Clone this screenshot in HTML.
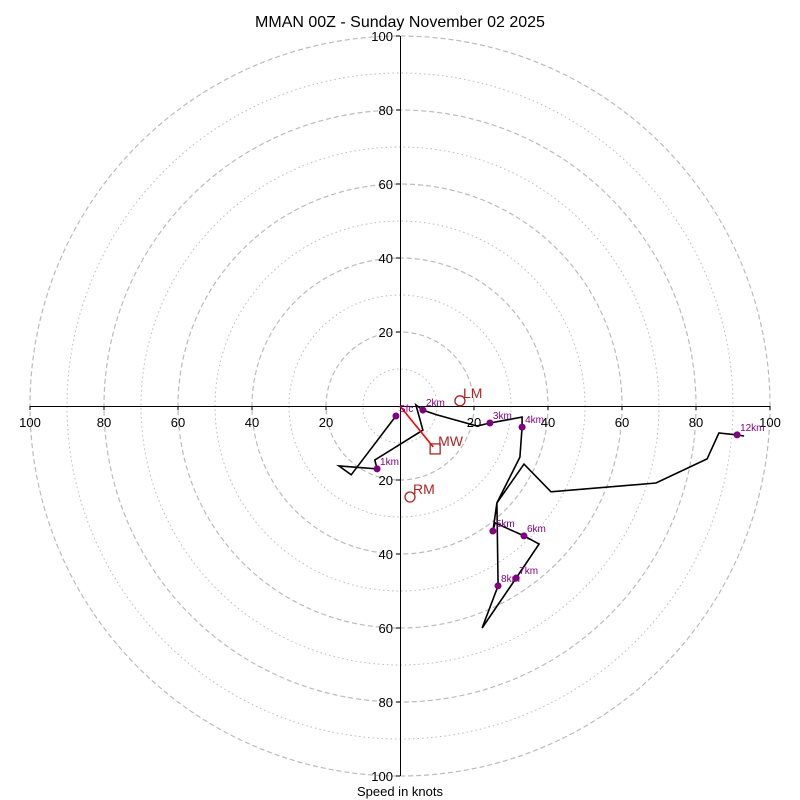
<!DOCTYPE html>
<html><head><meta charset="utf-8"><style>
html,body{margin:0;padding:0;background:#fff;}
svg{display:block;font-family:"Liberation Sans","DejaVu Sans",sans-serif;}
</style></head><body>
<svg id="chart" width="800" height="800" viewBox="0 0 800 800">
<rect width="800" height="800" fill="#fff"/>
<text x="400" y="27" text-anchor="middle" font-size="16" fill="#000">MMAN 00Z - Sunday November 02 2025</text>
<text x="400" y="796" text-anchor="middle" font-size="13" fill="#000">Speed in knots</text>
<g id="rings"></g><g id="axes" shape-rendering="crispEdges"></g><g id="trace"></g><g id="marks"></g>
</svg>
<script>
const ringValues=[10,20,30,40,50,60,70,80,90,100];
const tickValues=[20,40,60,80,100];
const traceU=[-1.1,-13.2,-16.5,-6.2,-6.8,6.2,4.3,6.2,10.0,20.8,24.3,33.0,33.0,32.4,26.2,25.1,25.7,33.5,37.6,31.4,22.2,26.5,26.2,33.5,40.8,69.2,83.0,86.2,91.1,93.0];
const traceV=[-2.7,-18.6,-16.2,-17.0,-14.6,-6.5,0.3,-1.1,-2.4,-5.4,-4.6,-3.0,-5.7,-13.8,-26.2,-33.8,-31.6,-35.1,-37.3,-46.5,-60.0,-48.6,-26.2,-15.7,-23.2,-20.8,-14.3,-7.3,-7.8,-8.1];
const heightLabels=["Sfc","1km","2km","3km","4km","5km","6km","7km","8km","12km"];
const heightU=[-1.1,-6.2,6.2,24.3,33.0,25.1,33.5,31.4,26.5,91.1];
const heightV=[-2.7,-17.0,-1.1,-4.6,-5.7,-33.8,-35.1,-46.5,-48.6,-7.8];
const motionLabels=["LM","RM","MW"];
const motionU=[16.2,2.7,9.5];
const motionV=[1.4,-24.6,-11.6];

const NS="http://www.w3.org/2000/svg";
const cx=400,cy=406,scale=3.7;
const X=u=>cx+u*scale, Y=v=>cy-v*scale;
function mk(tag,attrs,parent,txt){const e=document.createElementNS(NS,tag);for(const k in attrs)e.setAttribute(k,attrs[k]);if(txt!==undefined)e.textContent=txt;document.getElementById(parent).appendChild(e);return e;}

ringValues.forEach(r=>{
  const c=mk('circle',{cx:cx,cy:cy,r:r*scale,fill:'none',stroke:'#bbb','stroke-width':r%20===0?1.2:1,'stroke-dasharray':r%20===0?'5,3':'1.5,3'},'rings');
  
  
});
let a=mk('line',{x1:X(-100),y1:cy+0.5,x2:X(100),y2:cy+0.5,stroke:'#000','stroke-width':1},'axes');


a=mk('line',{x1:cx+0.5,y1:Y(100),x2:cx+0.5,y2:Y(-100),stroke:'#000','stroke-width':1},'axes');


tickValues.forEach(t=>{
  [-1,1].forEach(s=>{
    const xl=mk('line',{x1:X(s*t),y1:cy,x2:X(s*t),y2:cy+4,stroke:'#000'},'axes');
    
    
    const xt=mk('text',{x:X(s*t),y:cy+21,'text-anchor':'middle','font-size':13},'axes',String(t));
    
    
    const yl=mk('line',{x1:cx-4,y1:Y(s*t),x2:cx,y2:Y(s*t),stroke:'#000'},'axes');
    
    
    const yt=mk('text',{x:cx-7,y:Y(s*t)+5,'text-anchor':'end','font-size':13},'axes',String(t));
    
    
  });
});
const pts=traceU.map((u,i)=>X(u).toFixed(1)+','+Y(traceV[i]).toFixed(1)).join(' ');
const pl=mk('polyline',{points:pts,fill:'none',stroke:'#000','stroke-width':1.6,'stroke-linejoin':'miter'},'trace');


const ar=mk('line',{x1:cx,y1:cy,x2:X(motionU[2])-2,y2:Y(motionV[2])-2,stroke:'red','stroke-width':1.6},'marks');


heightLabels.forEach((lab,i)=>{
  const d=mk('circle',{cx:X(heightU[i]),cy:Y(heightV[i]),r:3.5,fill:'purple'},'marks');
  
  
  const t=mk('text',{x:X(heightU[i])+3,y:Y(heightV[i])-4,'font-size':10,fill:'purple'},'marks',lab);
  
  
});
motionLabels.forEach((lab,i)=>{
  const x=X(motionU[i]),y=Y(motionV[i]);
  let m;
  if(lab==='MW') m=mk('rect',{x:x-5,y:y-5,width:10,height:10,fill:'none',stroke:'#b22222','stroke-width':1.3},'marks');
  else m=mk('circle',{cx:x,cy:y,r:5,fill:'none',stroke:'#b22222','stroke-width':1.3},'marks');
  
  
  const t=mk('text',{x:x+3,y:y-3,'font-size':14,fill:'#b22222'},'marks',lab);
  
  
});
</script>
</body></html>
